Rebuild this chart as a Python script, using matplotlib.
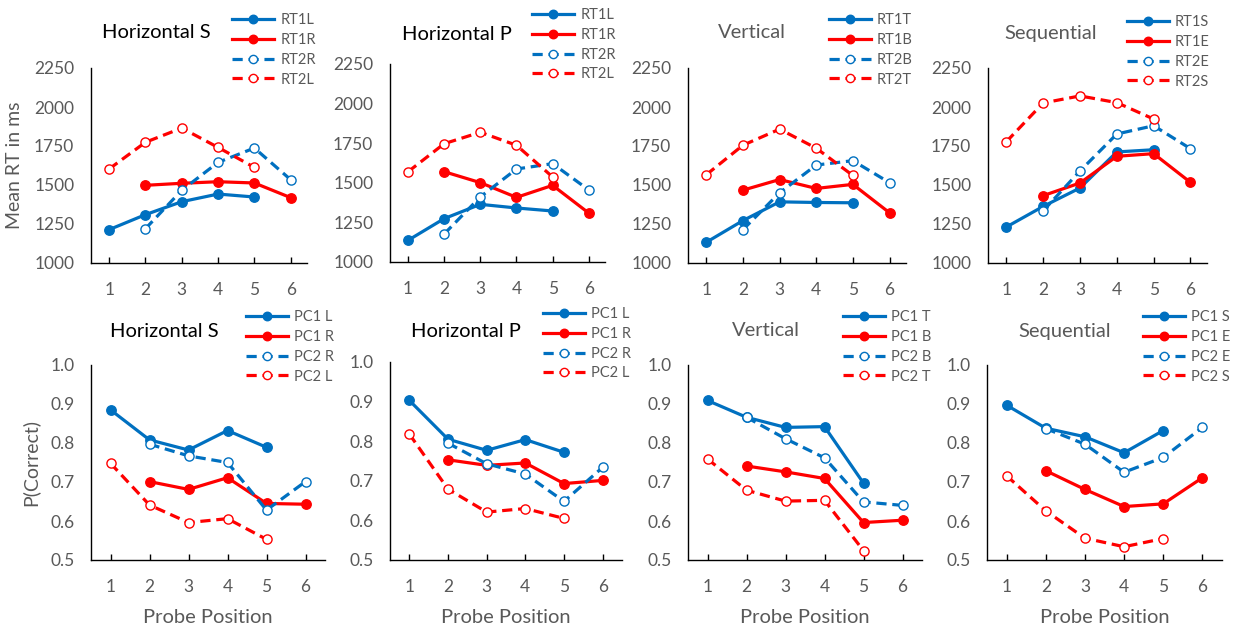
import matplotlib.pyplot as plt
import numpy as np

plt.rcParams['font.family'] = ['Lato', 'DejaVu Sans']

BLUE = '#0070C0'
RED = '#FF0000'
GRAY = '#595959'
W, H = 1234, 627

positions = [1, 2, 3, 4, 5, 6]
pos_1to5 = positions[:5]
pos_2to6 = positions[1:]

titles = ['Horizontal S', 'Horizontal P', 'Vertical', 'Sequential']
title_colors = ['black', 'black', GRAY, GRAY]

# Reaction time (ms); order per panel: RT1 first side, RT1 second side, RT2 second, RT2 first
rt_labels = [['RT1L', 'RT1R', 'RT2R', 'RT2L'],
             ['RT1L', 'RT1R', 'RT2R', 'RT2L'],
             ['RT1T', 'RT1B', 'RT2B', 'RT2T'],
             ['RT1S', 'RT1E', 'RT2E', 'RT2S']]
rt1_a = [[1214, 1310, 1393, 1442, 1423],
         [1137, 1274, 1364, 1341, 1322],
         [1133, 1272, 1392, 1388, 1386],
         [1231, 1363, 1481, 1712, 1726]]
rt1_b = [[1498, 1511, 1521, 1513, 1419],
         [1570, 1501, 1408, 1484, 1309],
         [1467, 1535, 1478, 1504, 1322],
         [1432, 1513, 1684, 1701, 1517]]
rt2_b = [[1220, 1466, 1645, 1737, 1534],
         [1177, 1411, 1587, 1621, 1455],
         [1214, 1450, 1628, 1656, 1515],
         [1335, 1590, 1827, 1880, 1733]]
rt2_a = [[1603, 1774, 1865, 1741, 1613],
         [1570, 1747, 1819, 1737, 1537],
         [1566, 1755, 1858, 1736, 1561],
         [1778, 2026, 2071, 2028, 1923]]

# Proportion correct
pc_labels = [['PC1 L', 'PC1 R', 'PC2 R', 'PC2 L'],
             ['PC1 L', 'PC1 R', 'PC2 R', 'PC2 L'],
             ['PC1 T', 'PC1 B', 'PC2 B', 'PC2 T'],
             ['PC1 S', 'PC1 E', 'PC2 E', 'PC2 S']]
pc1_a = [[0.885, 0.808, 0.782, 0.832, 0.789],
         [0.903, 0.805, 0.777, 0.804, 0.772],
         [0.909, 0.866, 0.840, 0.842, 0.697],
         [0.897, 0.838, 0.816, 0.775, 0.832]]
pc1_b = [[0.701, 0.681, 0.711, 0.645, 0.643],
         [0.753, 0.739, 0.745, 0.693, 0.701],
         [0.741, 0.726, 0.709, 0.596, 0.602],
         [0.729, 0.681, 0.637, 0.644, 0.711]]
pc2_b = [[0.797, 0.767, 0.750, 0.628, 0.701],
         [0.795, 0.743, 0.717, 0.648, 0.734],
         [0.866, 0.811, 0.762, 0.649, 0.640],
         [0.837, 0.797, 0.725, 0.763, 0.840]]
pc2_a = [[0.748, 0.641, 0.596, 0.606, 0.553],
         [0.818, 0.679, 0.621, 0.630, 0.605],
         [0.759, 0.679, 0.651, 0.653, 0.524],
         [0.716, 0.626, 0.556, 0.534, 0.555]]

rt_ticks = [1000, 1250, 1500, 1750, 2000, 2250]
pc_ticks = [0.5, 0.6, 0.7, 0.8, 0.9, 1.0]

# layout in pixels: left, right, top, bottom
top_boxes = [(91, 307, 68, 263), (390, 605, 64, 262), (688, 906, 68, 263), (988, 1207, 68, 263)]
bot_boxes = [(91, 325, 365, 560), (390, 622, 362, 560), (688, 922, 365, 560), (987, 1222, 365, 560)]
top_title_xy = [(156, 33), (457, 34), (752, 33), (1051, 34)]
bot_title_xy = [(164, 332), (466, 332), (766, 330), (1065, 332)]
top_leg_xy = [(232, 20), (532, 15), (829, 20), (1127, 22)]
bot_leg_xy = [(246, 317), (543, 314), (843, 317), (1143, 317)]


def make_axes(fig, box):
    l, r, t, b = box
    return fig.add_axes([l / W, 1 - b / H, (r - l) / W, (b - t) / H])


def draw_panel(ax, series, labels, ticks, xlim, fmt):
    styles = [(BLUE, '-', True), (RED, '-', True), (BLUE, (0, (3.2, 1.8)), False), (RED, (0, (3.2, 1.8)), False)]
    xs = [pos_1to5, pos_2to6, pos_2to6, pos_1to5]
    handles = []
    for x, y, lab, (c, ls, filled) in zip(xs, series, labels, styles):
        h, = ax.plot(x, y, color=c, linestyle=ls, lw=2.3, marker='o',
                     markersize=6.8 if filled else 6.6,
                     markerfacecolor=c if filled else 'white',
                     markeredgecolor=c, markeredgewidth=1.0, label=lab, zorder=3)
        handles.append(h)
    ax.set_xlim(*xlim)
    ax.set_ylim(ticks[0], ticks[-1])
    ax.set_xticks(positions)
    ax.set_yticks(ticks)
    ax.set_yticklabels([fmt(t) for t in ticks])
    ax.set_yticks([ticks[-1]], minor=True)
    for s in ['top', 'right']:
        ax.spines[s].set_visible(False)
    for s in ['left', 'bottom']:
        ax.spines[s].set_color('black')
        ax.spines[s].set_linewidth(1.0)
    ax.tick_params(axis='x', direction='in', length=4, width=1, color='black',
                   labelcolor=GRAY, labelsize=12.5, pad=14)
    ax.tick_params(axis='y', which='major', length=0, labelcolor=GRAY, labelsize=12.5, pad=12)
    ax.tick_params(axis='y', which='minor', direction='in', length=6, width=1, color='black')
    ax.set_facecolor('none')
    return handles


def add_legend(ax, handles, xy):
    x, y = xy
    ax.legend(handles=handles, loc='upper left', bbox_to_anchor=(x / W, 1 - (y - 7) / H),
              bbox_transform=ax.figure.transFigure, frameon=False, fontsize=10.5,
              handlelength=2.9, handletextpad=0.4, labelspacing=0.4, borderpad=0,
              borderaxespad=0, labelcolor=GRAY, markerscale=0.9)


def main():
    fig = plt.figure(figsize=(W / 100, H / 100), dpi=100)
    for i in range(4):
        ax = make_axes(fig, top_boxes[i])
        hs = draw_panel(ax, [rt1_a[i], rt1_b[i], rt2_b[i], rt2_a[i]], rt_labels[i],
                        rt_ticks, (0.5, 6.45), lambda t: f"{t:d}")
        add_legend(ax, hs, top_leg_xy[i])
        fig.text(top_title_xy[i][0] / W, 1 - top_title_xy[i][1] / H, titles[i],
                 ha='center', va='center', fontsize=14.5, color=title_colors[i])
        if i == 0:
            ax.set_ylabel('Mean RT in ms', fontsize=14, color=GRAY, labelpad=8)

        ax = make_axes(fig, bot_boxes[i])
        hs = draw_panel(ax, [pc1_a[i], pc1_b[i], pc2_b[i], pc2_a[i]], pc_labels[i],
                        pc_ticks, (0.5, 6.5), lambda t: f"{t:.1f}")
        add_legend(ax, hs, bot_leg_xy[i])
        fig.text(bot_title_xy[i][0] / W, 1 - bot_title_xy[i][1] / H, titles[i],
                 ha='center', va='center', fontsize=14.5, color=title_colors[i])
        ax.set_xlabel('Probe Position', fontsize=14.5, color=GRAY, labelpad=10)
        if i == 0:
            ax.set_ylabel('P(Correct)', fontsize=14, color=GRAY, labelpad=8)

    fig.savefig('out.png', dpi=100)


if __name__ == "__main__":
    main()
